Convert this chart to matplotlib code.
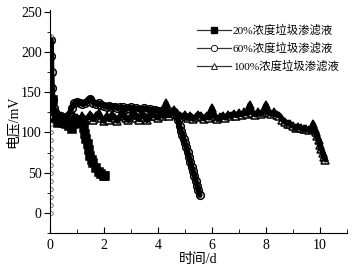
"""Curvas de voltaje de la celda con lixiviado a distintas concentraciones."""

import matplotlib

matplotlib.use("Agg")
from matplotlib import pyplot as plt
from matplotlib.lines import Line2D
from matplotlib.ticker import MultipleLocator

# ---------------------------------------------------------------------------
# Datos
# ---------------------------------------------------------------------------

labels = ["20%浓度垃圾渗滤液", "60%浓度垃圾渗滤液", "100%浓度垃圾渗滤液"]

t20 = [0.1, 0.15, 0.2, 0.3, 0.4, 0.5, 0.6, 0.7, 0.8, 0.9, 1.0, 1.1, 1.2,
       1.25, 1.3, 1.35, 1.4, 1.45, 1.5, 1.55, 1.6, 1.7, 1.8, 1.9, 2.0, 2.05]
v20 = [140, 122, 114, 112, 118, 116, 110, 108, 104, 110, 112, 116, 112,
       106, 98, 92, 86, 78, 71, 66, 62, 56, 51, 48, 46, 46]

# arranque: subida casi vertical en t ~ 0 (columna de círculos)
t60_start = [0.03] * 23
v60_start = [0, 10, 20, 30, 40, 50, 60, 70, 80, 90, 100, 110, 120, 130,
             140, 150, 160, 170, 180, 190, 200, 210, 220]

t60 = [0.04, 0.05, 0.06, 0.08, 0.1, 0.15, 0.2, 0.3, 0.4, 0.5, 0.6,
       0.7, 0.8, 0.9, 1.0, 1.1, 1.2, 1.3, 1.4, 1.5, 1.6, 1.7, 1.8, 1.9,
       2.0, 2.1, 2.2, 2.3, 2.4, 2.5, 2.6, 2.7, 2.8, 2.9, 3.0, 3.1, 3.2,
       3.3, 3.4, 3.5, 3.6, 3.7, 3.8, 3.9, 4.0, 4.1, 4.2, 4.3, 4.4, 4.5,
       4.6, 4.7, 4.75, 4.8, 4.85, 4.9, 4.95, 5.0, 5.05, 5.1, 5.15, 5.2,
       5.25, 5.3, 5.35, 5.4, 5.45, 5.5, 5.55]
v60 = [215, 195, 175, 155, 140, 130, 125, 118, 120, 115, 118, 122, 130,
       136, 138, 137, 135, 136, 139, 142, 137, 135, 136, 134, 133, 132,
       133, 131, 132, 130, 131, 131, 129, 130, 131, 129, 130, 128, 129,
       130, 128, 129, 127, 128, 127, 126, 127, 125, 126, 124, 123, 120,
       115, 108, 102, 97, 92, 87, 82, 76, 70, 63, 57, 52, 46, 40, 34, 28,
       22]

t100 = [0.05, 0.1, 0.15, 0.2, 0.3, 0.4, 0.5, 0.6, 0.7, 0.8, 0.9, 1.0,
        1.1, 1.2, 1.3, 1.4, 1.5, 1.6, 1.7, 1.8, 1.9, 2.0, 2.1, 2.2, 2.3,
        2.4, 2.5, 2.6, 2.7, 2.8, 2.9, 3.0, 3.1, 3.2, 3.3, 3.4, 3.5, 3.6,
        3.7, 3.8, 3.9, 4.0, 4.1, 4.2, 4.3, 4.4, 4.5, 4.6, 4.7, 4.8, 4.9,
        5.0, 5.1, 5.2, 5.3, 5.4, 5.5, 5.6, 5.7, 5.8, 5.9, 6.0, 6.1, 6.2,
        6.3, 6.4, 6.5, 6.6, 6.7, 6.8, 6.9, 7.0, 7.1, 7.2, 7.3, 7.4, 7.5,
        7.6, 7.7, 7.8, 7.9, 8.0, 8.1, 8.2, 8.3, 8.4, 8.5, 8.6, 8.7, 8.8,
        8.9, 9.0, 9.1, 9.2, 9.3, 9.4, 9.5, 9.6, 9.7, 9.75, 9.8, 9.85,
        9.9, 9.95, 10.0, 10.05, 10.1, 10.15, 10.2]
v100 = [150, 130, 122, 118, 115, 120, 112, 118, 110, 115, 120, 118,
        112, 120, 115, 118, 122, 116, 120, 124, 118, 114, 120, 116, 122,
        118, 114, 120, 125, 118, 115, 120, 124, 118, 116, 122, 119, 115,
        121, 126, 120, 118, 123, 120, 136, 121, 124, 128, 124, 121, 119,
        122, 118, 121, 117, 119, 122, 120, 117, 121, 118, 130, 120, 117,
        119, 121, 118, 122, 120, 123, 121, 124, 122, 125, 123, 134, 124,
        122, 125, 123, 125, 134, 124, 123, 125, 122, 121, 116, 113, 111,
        110, 108, 106, 107, 105, 104, 104, 103, 104, 110, 104, 100, 95,
        90, 84, 80, 75, 70, 66]

x_ticks = [0, 2, 4, 6, 8, 10]
y_ticks = [0, 50, 100, 150, 200, 250]

# ---------------------------------------------------------------------------
# Figura
# ---------------------------------------------------------------------------

FONT = ["Liberation Serif", "Noto Sans CJK SC"]
plt.rcParams["font.family"] = FONT

fig = plt.figure(figsize=(3.53, 2.67), dpi=100)
ax = fig.add_axes([0.1416, 0.1273, 0.8414, 0.835])

# Los puntos están tan juntos que forman una banda negra: marcadores
# abiertos debajo y una línea gruesa por encima.
series = [
    (t100, v100, "^", "white"),
    (t60, v60, "o", "white"),
    (t20, v20, "s", "black"),
]
for t, v, marker, face in series:
    ax.plot(t, v, linestyle="none", marker=marker, markersize=5.5,
            markerfacecolor=face, markeredgecolor="black",
            markeredgewidth=1.1, zorder=2)
    ax.plot(t, v, color="black", linewidth=4.0, solid_capstyle="round",
            solid_joinstyle="round", zorder=3)

# columna de arranque del 60 %
ax.plot(t60_start, v60_start, linestyle="none", marker="o", markersize=2.6,
        markerfacecolor="white", markeredgecolor="#444444",
        markeredgewidth=0.5, zorder=2)
ax.plot([t60_start[-1], t60[0]], [v60_start[-1], v60[0]], color="black",
        linewidth=1.0, zorder=3)

ax.set_xlim(0, 11)
ax.set_ylim(-25, 252)
ax.set_xticks(x_ticks)
ax.set_yticks(y_ticks)
ax.xaxis.set_minor_locator(MultipleLocator(1))
ax.yaxis.set_minor_locator(MultipleLocator(25))

ax.spines["top"].set_visible(False)
ax.spines["right"].set_visible(False)
for side in ("left", "bottom"):
    ax.spines[side].set_linewidth(0.8)

ax.tick_params(axis="x", which="both", direction="in", labelsize=10, pad=4)
ax.tick_params(axis="x", which="major", length=4)
ax.tick_params(axis="x", which="minor", length=3)
ax.tick_params(axis="y", which="both", direction="out", labelsize=10, pad=2)
ax.tick_params(axis="y", which="major", length=4)
ax.tick_params(axis="y", which="minor", length=2.5)

ax.set_xlabel("时间/d", fontsize=10, labelpad=1)
ax.set_ylabel("电压/mV", fontsize=10, labelpad=1)

# Leyenda con marcadores de muestra
handles = [
    Line2D([], [], color="#333333", linewidth=0.9, marker="s", markersize=4.5,
           markerfacecolor="black", markeredgecolor="black"),
    Line2D([], [], color="#333333", linewidth=0.9, marker="o", markersize=4.5,
           markerfacecolor="white", markeredgecolor="black",
           markeredgewidth=0.6),
    Line2D([], [], color="#333333", linewidth=0.9, marker="^", markersize=4.5,
           markerfacecolor="white", markeredgecolor="black",
           markeredgewidth=0.6),
]
fig.legend(handles, labels, loc="upper left", bbox_to_anchor=(0.545, 0.925),
           frameon=False, fontsize=8.2, handlelength=3.0, handletextpad=0.15,
           labelspacing=0.55, borderaxespad=0)

fig.savefig("out.png", dpi=100)
